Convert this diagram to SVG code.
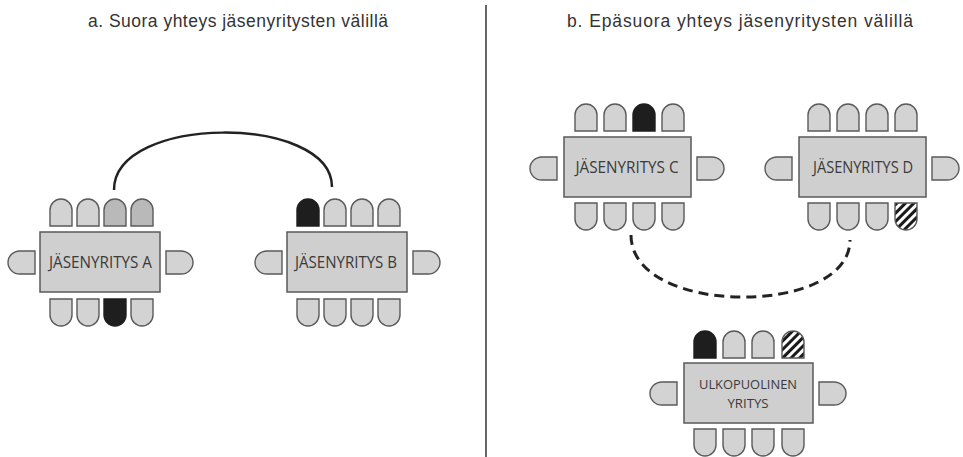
<svg xmlns="http://www.w3.org/2000/svg" xmlns:xlink="http://www.w3.org/1999/xlink" width="963" height="457" viewBox="0 0 963 457">
<style>
.title{font-family:"Liberation Sans",Arial,sans-serif;font-size:17.5px;fill:#333}
.tbl{fill:#cfcfcf;stroke:#5a5a5a;stroke-width:1.5}
.lbl{font-family:"Open Sans","Liberation Sans",sans-serif;font-size:16px;font-weight:500;fill:#3a3a3a;text-anchor:middle}
.sm{font-size:13.5px}
.ch{fill:#d3d3d3;stroke:#5a5a5a;stroke-width:1.4}
.mid{fill:#b9b9b9}
.dark{fill:#1e1e1e;stroke:#1e1e1e}
.hatch{fill:url(#hatch);stroke:#5a5a5a}
.conn{fill:none;stroke:#222;stroke-width:2.5}
.dash{stroke-width:3;stroke-dasharray:10 6}
</style>
<defs>
<pattern id="hatch" patternUnits="userSpaceOnUse" width="6" height="6" patternTransform="rotate(45)">
<rect width="6" height="6" fill="#fff"/>
<rect width="3" height="6" fill="#1a1a1a"/>
</pattern>
<path id="cu" d="M0,27 V11 A11,11 0 0 1 22,11 V27 Z"/>
<path id="cd" d="M0,0 V16 A11,11 0 0 0 22,16 V0 Z"/>
<path id="cl" d="M27,0 H12 A12,11.5 0 0 0 12,23 H27 Z"/>
<path id="cr" d="M0,0 H15 A12,11.5 0 0 1 15,23 H0 Z"/>
</defs>

<text class="title" x="88" y="27" textLength="300">a. Suora yhteys jäsenyritysten välillä</text>
<text class="title" x="567" y="27" textLength="346">b. Epäsuora yhteys jäsenyritysten välillä</text>
<line x1="486" y1="5" x2="486" y2="457" stroke="#333" stroke-width="1.5"/>

<g id="connectors">
<path class="conn" d="M114,190 C114,114 332,114 332,187"/>
<path class="conn dash" d="M631,235 C631,317 850,317 850,240"/>
</g>

<g id="tableA">
<use href="#cu" class="ch" x="50" y="199"/>
<use href="#cu" class="ch" x="77" y="199"/>
<use href="#cu" class="ch mid" x="104" y="199"/>
<use href="#cu" class="ch mid" x="131" y="199"/>
<use href="#cd" class="ch" x="50" y="299"/>
<use href="#cd" class="ch" x="77" y="299"/>
<use href="#cd" class="ch dark" x="104" y="299"/>
<use href="#cd" class="ch" x="131" y="299"/>
<use href="#cl" class="ch" x="8" y="251"/>
<use href="#cr" class="ch" x="166" y="251"/>
<rect class="tbl" x="40" y="232" width="120" height="60"/>
<text class="lbl" x="100.5" y="268" textLength="103" lengthAdjust="spacingAndGlyphs">JÄSENYRITYS A</text>
</g>

<g id="tableB">
<use href="#cu" class="ch dark" x="297" y="199"/>
<use href="#cu" class="ch" x="324" y="199"/>
<use href="#cu" class="ch" x="351" y="199"/>
<use href="#cu" class="ch" x="378" y="199"/>
<use href="#cd" class="ch" x="297" y="299"/>
<use href="#cd" class="ch" x="324" y="299"/>
<use href="#cd" class="ch" x="351" y="299"/>
<use href="#cd" class="ch" x="378" y="299"/>
<use href="#cl" class="ch" x="255" y="251"/>
<use href="#cr" class="ch" x="413" y="251"/>
<rect class="tbl" x="287" y="232" width="120" height="60"/>
<text class="lbl" x="346" y="268" textLength="102" lengthAdjust="spacingAndGlyphs">JÄSENYRITYS B</text>
</g>

<g id="tableC">
<use href="#cu" class="ch" x="575" y="104"/>
<use href="#cu" class="ch" x="604" y="104"/>
<use href="#cu" class="ch dark" x="633" y="104"/>
<use href="#cu" class="ch" x="662" y="104"/>
<use href="#cd" class="ch" x="575" y="203"/>
<use href="#cd" class="ch" x="604" y="203"/>
<use href="#cd" class="ch" x="633" y="203"/>
<use href="#cd" class="ch" x="662" y="203"/>
<use href="#cl" class="ch" x="530" y="157"/>
<use href="#cr" class="ch" x="697" y="157"/>
<rect class="tbl" x="564" y="137" width="127" height="60"/>
<text class="lbl" x="627" y="173" textLength="103" lengthAdjust="spacingAndGlyphs">JÄSENYRITYS C</text>
</g>

<g id="tableD">
<use href="#cu" class="ch" x="808" y="104"/>
<use href="#cu" class="ch" x="837" y="104"/>
<use href="#cu" class="ch" x="866" y="104"/>
<use href="#cu" class="ch" x="895" y="104"/>
<use href="#cd" class="ch" x="808" y="203"/>
<use href="#cd" class="ch" x="837" y="203"/>
<use href="#cd" class="ch" x="866" y="203"/>
<use href="#cd" class="ch hatch" x="895" y="203"/>
<use href="#cl" class="ch" x="765" y="157"/>
<use href="#cr" class="ch" x="932" y="157"/>
<rect class="tbl" x="799" y="137" width="127" height="60"/>
<text class="lbl" x="863" y="173" textLength="100" lengthAdjust="spacingAndGlyphs">JÄSENYRITYS D</text>
</g>

<g id="tableU">
<use href="#cu" class="ch dark" x="694" y="331"/>
<use href="#cu" class="ch" x="723" y="331"/>
<use href="#cu" class="ch" x="752" y="331"/>
<use href="#cu" class="ch hatch" x="782" y="331"/>
<use href="#cd" class="ch" x="694" y="429"/>
<use href="#cd" class="ch" x="723" y="429"/>
<use href="#cd" class="ch" x="752" y="429"/>
<use href="#cd" class="ch" x="782" y="429"/>
<use href="#cl" class="ch" x="650" y="382"/>
<use href="#cr" class="ch" x="819" y="382"/>
<rect class="tbl" x="684" y="363" width="129" height="60"/>
<text class="lbl sm" x="748" y="389" textLength="98" lengthAdjust="spacingAndGlyphs">ULKOPUOLINEN</text>
<text class="lbl sm" x="748" y="408" textLength="41" lengthAdjust="spacingAndGlyphs">YRITYS</text>
</g>
</svg>
